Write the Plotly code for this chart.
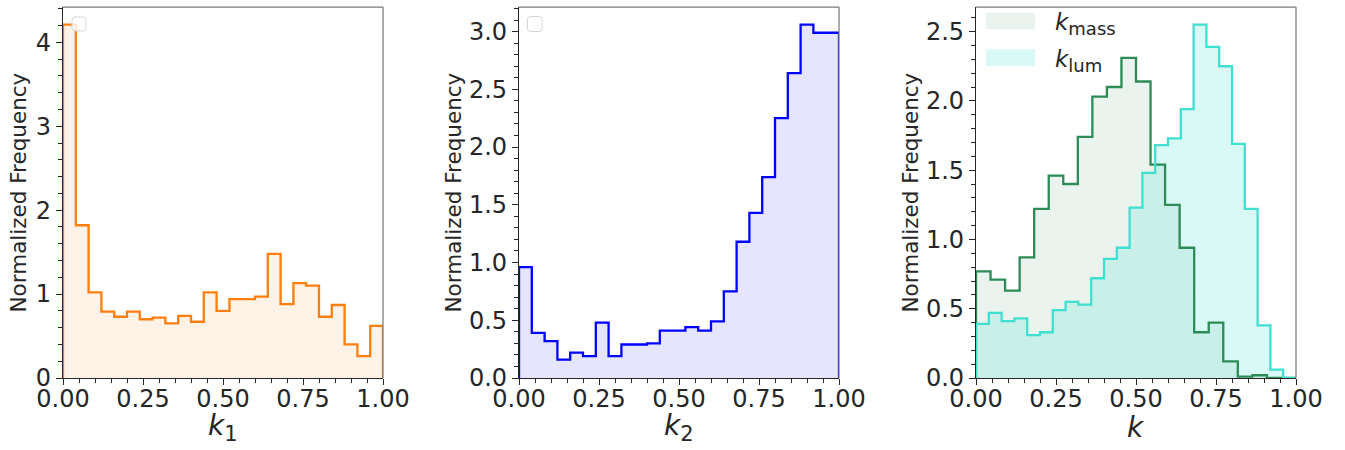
import numpy as np
import plotly.graph_objects as go

# ---------------- data (normalized frequencies per bin) ----------------
k1_vals = [4.21, 1.82, 1.02, 0.79, 0.73, 0.79, 0.70, 0.72, 0.65, 0.74, 0.67, 1.02, 0.80,
           0.94, 0.94, 0.97, 1.48, 0.88, 1.13, 1.10, 0.73, 0.87, 0.40, 0.26, 0.62]
k2_vals = [0.96, 0.39, 0.32, 0.16, 0.22, 0.19, 0.48, 0.19, 0.29, 0.29, 0.30, 0.41, 0.41,
           0.44, 0.41, 0.49, 0.75, 1.18, 1.43, 1.74, 2.25, 2.64, 3.06, 2.99, 2.99]
kmass_vals = [0.77, 0.71, 0.63, 0.87, 1.22, 1.46, 1.40, 1.74, 2.03, 2.10, 2.31, 2.14, 1.54,
              1.25, 0.94, 0.33, 0.40, 0.12, 0.01, 0.02, 0.0, 0.0]
klum_vals = [0.39, 0.47, 0.41, 0.43, 0.31, 0.33, 0.49, 0.55, 0.53, 0.72, 0.86, 0.94, 1.23,
             1.48, 1.68, 1.73, 1.94, 2.55, 2.39, 2.25, 1.69, 1.22, 0.38, 0.06, 0.0]

x_titles = ['<i>k</i><sub><span style="font-size:21px">1</span></sub>',
            '<i>k</i><sub><span style="font-size:21px">2</span></sub>',
            '<i>k</i>']
y_title = "Normalized Frequency"
legend_labels = ['<i>k</i><sub><span style="font-size:18px">mass</span></sub>',
                 '<i>k</i><sub><span style="font-size:18px">lum</span></sub>']

# ---------------- layout constants ----------------
W, H = 1345, 450
TOP, BOT = 7, 378
ML, MR, MT, MB = 0, 0, TOP, H - BOT
PH = BOT - TOP
FONT = "DejaVu Sans"
TXT = "#262626"
TICKFS = 24
panels_px = [(63, 383), (519, 839), (976, 1296)]


def pxx(x):
    return x / W


def pxy(y):
    return (BOT - y) / PH


def step_xy(vals):
    n = len(vals)
    edges = np.linspace(0, 1, n + 1)
    x = [edges[0]] + list(edges[:-1]) + [edges[-1], edges[-1]]
    y = [0] + list(vals) + [vals[-1], 0]
    return x, y


def rgba(rgb, a):
    return "rgba(%d,%d,%d,%.3f)" % (rgb[0], rgb[1], rgb[2], a)


ORANGE = (255, 127, 14)
BLUE = (0, 0, 255)
SEAGREEN = (46, 139, 87)
TURQ = (64, 224, 208)

fig = go.Figure()


def add_hist(vals, color, alpha, axis_idx):
    x, y = step_xy(vals)
    xa = "x" if axis_idx == 1 else "x%d" % axis_idx
    ya = "y" if axis_idx == 1 else "y%d" % axis_idx
    fig.add_trace(go.Scatter(x=x, y=y, mode="lines", line=dict(shape="hv", width=0),
                             fill="tozeroy", fillcolor=rgba(color, alpha),
                             xaxis=xa, yaxis=ya, showlegend=False, hoverinfo="skip"))
    return x, y, xa, ya


def add_line(x, y, xa, ya, color, lw=2.3):
    fig.add_trace(go.Scatter(x=x, y=y, mode="lines",
                             line=dict(shape="hv", width=lw, color=rgba(color, 1)),
                             xaxis=xa, yaxis=ya, showlegend=False, hoverinfo="skip"))


r1 = add_hist(k1_vals, ORANGE, 0.1, 1)
add_line(*r1, ORANGE)
r2 = add_hist(k2_vals, BLUE, 0.1, 2)
add_line(*r2, BLUE)
r3m = add_hist(kmass_vals, SEAGREEN, 0.1, 3)
r3l = add_hist(klum_vals, TURQ, 0.2, 3)
add_line(*r3m, SEAGREEN)
add_line(*r3l, TURQ)

yranges = [[0, max(k1_vals) * 1.05], [0, max(k2_vals) * 1.05],
           [0, max(max(kmass_vals), max(klum_vals)) * 1.05]]
ydticks = [1, 0.5, 0.5]
yminor = [0.2, 0.1, 0.1]
yfmt = ["d", ".1f", ".1f"]

layout = dict(width=W, height=H, margin=dict(l=ML, r=MR, t=MT, b=MB, pad=0),
              paper_bgcolor="white", plot_bgcolor="white",
              font=dict(family=FONT, color=TXT, size=22), showlegend=False,
              template="none")
for i, (xl, xr) in enumerate(panels_px):
    sfx = "" if i == 0 else str(i + 1)
    layout["xaxis" + sfx] = dict(
        domain=[pxx(xl), pxx(xr)], range=[0, 1], anchor="y" + sfx,
        dtick=0.25, tick0=0, tickformat=".2f", ticks="outside", ticklen=6, tickwidth=1.25,
        tickcolor=TXT, showline=True, linecolor=TXT, linewidth=1.25, showgrid=False,
        zeroline=False, tickfont=dict(size=TICKFS, color=TXT, family=FONT),
        ticklabelstandoff=-7,
        minor=dict(dtick=0.05, tick0=0, ticks="outside", ticklen=3.5, tickwidth=1,
                   tickcolor=TXT, showgrid=False),
        automargin=False, fixedrange=True)
    layout["yaxis" + sfx] = dict(
        domain=[0, 1], range=yranges[i], anchor="x" + sfx,
        dtick=ydticks[i], tick0=0, tickformat=yfmt[i], ticks="outside", ticklen=6,
        tickwidth=1.25, tickcolor=TXT, showline=True, linecolor=TXT, linewidth=1.25,
        showgrid=False, zeroline=False, tickfont=dict(size=TICKFS, color=TXT, family=FONT),
        minor=dict(dtick=yminor[i], tick0=0, ticks="outside", ticklen=3.5, tickwidth=1,
                   tickcolor=TXT, showgrid=False),
        automargin=False, fixedrange=True)

fig.update_layout(**layout)

shapes = []
annotations = []
# top / right spines in gray
for (xl, xr) in panels_px:
    shapes.append(dict(type="line", xref="paper", yref="paper", x0=pxx(xl), x1=pxx(xr),
                       y0=1, y1=1, line=dict(color="#7a7a7a", width=1.25), layer="above"))
    shapes.append(dict(type="line", xref="paper", yref="paper", x0=pxx(xr), x1=pxx(xr),
                       y0=0, y1=1, line=dict(color="#7a7a7a", width=1.25), layer="above"))


def rounded_box(x0, y0, x1, y1, r):
    rx, ry = r / W, r / PH
    X0, X1 = pxx(x0), pxx(x1)
    Y0, Y1 = pxy(y1), pxy(y0)  # Y0 bottom, Y1 top in paper coords
    p = ("M %f,%f L %f,%f Q %f,%f %f,%f L %f,%f Q %f,%f %f,%f L %f,%f Q %f,%f %f,%f "
         "L %f,%f Q %f,%f %f,%f Z") % (
        X0 + rx, Y0, X1 - rx, Y0, X1, Y0, X1, Y0 + ry, X1, Y1 - ry, X1, Y1, X1 - rx, Y1,
        X0 + rx, Y1, X0, Y1, X0, Y1 - ry, X0, Y0 + ry, X0, Y0, X0 + rx, Y0)
    return dict(type="path", xref="paper", yref="paper", path=p,
                fillcolor="rgba(255,255,255,0.8)", line=dict(color="#d6d6d6", width=1),
                layer="above")


# empty legend frames in panels 1 and 2
shapes.append(rounded_box(72, 17, 86, 31, 3))
shapes.append(rounded_box(527.5, 16.5, 542, 31.5, 3))

# legend of panel 3
leg_rows = [(12.7, 29.3, rgba(SEAGREEN, 0.1)), (49.3, 66, rgba(TURQ, 0.2))]
for (ya, yb, col), lab in zip(leg_rows, legend_labels):
    shapes.append(dict(type="rect", xref="paper", yref="paper", x0=pxx(986), x1=pxx(1035),
                       y0=pxy(yb), y1=pxy(ya), fillcolor=col, line=dict(width=0),
                       layer="above"))
    annotations.append(dict(xref="paper", yref="paper", x=pxx(1053), y=pxy((ya + yb) / 2 + 3),
                            xanchor="left", yanchor="middle", showarrow=False, text=lab,
                            font=dict(size=23, color=TXT, family=FONT)))

# axis titles
ytitle_x = [18, 453, 910]
for i, (xl, xr) in enumerate(panels_px):
    annotations.append(dict(xref="paper", yref="paper", x=pxx(ytitle_x[i]), y=pxy((TOP + BOT) / 2),
                            xanchor="center", yanchor="middle", textangle=-90, showarrow=False,
                            text=y_title, font=dict(size=21.5, color=TXT, family=FONT)))
    annotations.append(dict(xref="paper", yref="paper", x=pxx((xl + xr) / 2), y=pxy(428),
                            xanchor="center", yanchor="middle", showarrow=False,
                            text=x_titles[i], font=dict(size=28, color=TXT, family=FONT)))

fig.update_layout(shapes=shapes, annotations=annotations)
fig.write_html("out.html", config={"displayModeBar": False},
               post_script="document.body.style.margin='0px';")
